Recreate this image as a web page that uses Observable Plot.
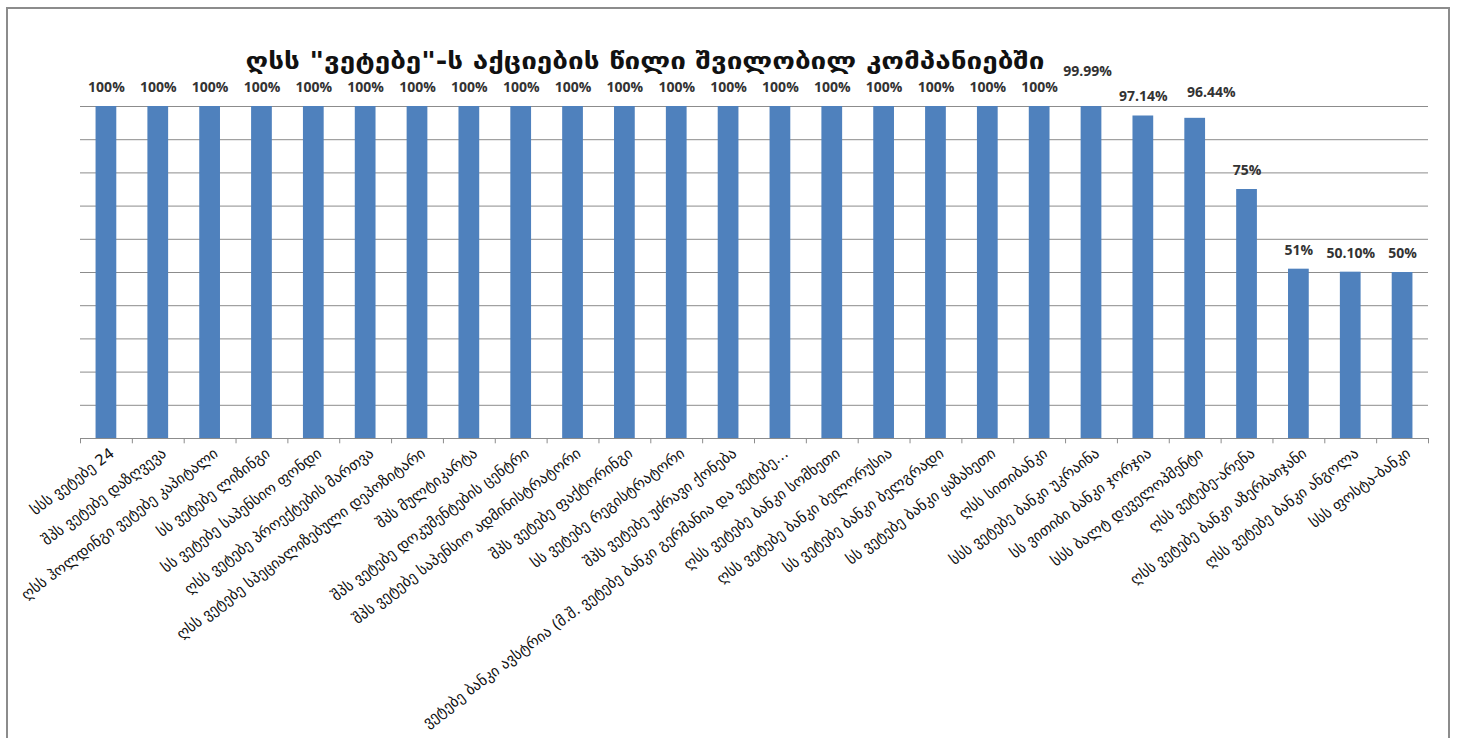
<!DOCTYPE html>
<html>
<head>
<meta charset="utf-8">
<script src="https://cdn.jsdelivr.net/npm/d3@7"></script>
<script src="https://cdn.jsdelivr.net/npm/@observablehq/plot@0.6"></script>
<style>
  html, body { margin: 0; padding: 0; background: #fff; }
  #wrap { position: relative; width: 1460px; height: 738px; overflow: hidden; }
  #frame { position: absolute; left: 6px; top: 7px; width: 1444px; height: 760px; border: 2px solid #8c8c8c; box-sizing: border-box; }
  #title { position: absolute; top: 47px; left: 245px; width: 800px; text-align: center;
           font-family: "DejaVu Sans", sans-serif; font-weight: bold; font-size: 24px; color: #111; white-space: nowrap;
           transform: scaleX(1.16); transform-origin: center; }
  #chart { position: absolute; left: 0; top: 0; }
</style>
</head>
<body>
<div id="wrap">
  <div id="frame"></div>
  <div id="chart"></div>
  <div id="title">ღსს "ვეტებე"-ს აქციების წილი შვილობილ კომპანიებში</div>
</div>
<script>
const companies = [
  "სსს ვეტებე 24",
  "შპს ვეტებე დაზღვევა",
  "ღსს ჰოლდინგი ვეტებე კაპიტალი",
  "სს ვეტებე ლიზინგი",
  "სს ვეტებე საპენსიო ფონდი",
  "ღსს ვეტებე პროექტების მართვა",
  "ღსს ვეტებე სპეციალიზებული დეპოზიტარი",
  "შპს მულტიკარტა",
  "შპს ვეტებე დოკუმენტების ცენტრი",
  "შპს ვეტებე საპენსიო ადმინისტრატორი",
  "შპს ვეტებე ფაქტორინგი",
  "სს ვეტებე რეგისტრატორი",
  "შპს ვეტებე უძრავი ქონება",
  "ვეტებე ბანკი ავსტრია (მ.შ. ვეტებე ბანკი გერმანია და ვეტებე…",
  "ღსს ვეტებე ბანკი სომხეთი",
  "ღსს ვეტებე ბანკი ბელორუსია",
  "სს ვეტებე ბანკი ბელგრადი",
  "სს ვეტებე ბანკი ყაზახეთი",
  "ღსს სითიბანკი",
  "სსს ვეტებე ბანკი უკრაინა",
  "სს ვითიბი ბანკი ჯორჯია",
  "სსს ბალტ დეველოპმენტი",
  "ღსს ვეტებე-არენა",
  "ღსს ვეტებე ბანკი აზერბაიჯანი",
  "ღსს ვეტებე ბანკი ანგოლა",
  "სსს ფოსტა-ბანკი"
];
const shares = [100,100,100,100,100,100,100,100,100,100,100,100,100,100,100,100,100,100,100,99.99,97.14,96.44,75,51,50.10,50];
const shareLabels = ["100%","100%","100%","100%","100%","100%","100%","100%","100%","100%","100%","100%","100%","100%","100%","100%","100%","100%","100%","99.99%","97.14%","96.44%","75%","51%","50.10%","50%"];
const gridTicks = [0,10,20,30,40,50,60,70,80,90,100];

const data = companies.map((name, i) => ({name, value: shares[i], label: shareLabels[i]}));

const W = 1460, H = 738, mL = 80, mR = 32, mT = 106, mB = 300;
const step = (W - mL - mR) / companies.length;

const labelStyle = {fontFamily: "Open Sans, sans-serif", fontWeight: "bold", fontSize: 14, fill: "#333", letterSpacing: "1.3px"};

const chart = Plot.plot({
  width: W, height: H,
  marginTop: mT, marginBottom: mB, marginLeft: mL, marginRight: mR,
  style: {fontFamily: "DejaVu Sans, sans-serif", background: "transparent"},
  x: {domain: companies, paddingInner: 0.6, paddingOuter: 0.3, round: false, label: null},
  y: {domain: [0, 100], axis: null},
  marks: [
    Plot.gridY(gridTicks, {stroke: "#8c8c8c", strokeOpacity: 1, strokeWidth: 1}),
    Plot.barY(data, {x: "name", y: "value", fill: "#4f81bd"}),
    Plot.ruleY([0], {stroke: "#8c8c8c"}),
    Plot.ruleX(companies, {x: d => d, dx: -step / 2, y1: 0, y2: -1.6, stroke: "#8c8c8c"}),
    Plot.ruleX([companies[companies.length - 1]], {x: d => d, dx: step / 2, y1: 0, y2: -1.6, stroke: "#8c8c8c"}),
    Plot.text(data.filter(d => d.value !== 99.99 && d.value !== 96.44), {x: "name", y: "value", text: "label", dy: -19, ...labelStyle}),
    Plot.text(data.filter(d => d.value === 96.44), {x: "name", y: "value", text: "label", dy: -26, dx: 16, ...labelStyle}),
    Plot.text(data.filter(d => d.value === 99.99), {x: "name", y: "value", text: "label", dy: -35, dx: -4, ...labelStyle}),
    Plot.axisX({tickRotate: -37, tickSize: 0, tickPadding: 13, fontSize: 15, fill: "#111", dx: 6, label: null})
  ]
});
document.getElementById("chart").appendChild(chart);
</script>
</body>
</html>
